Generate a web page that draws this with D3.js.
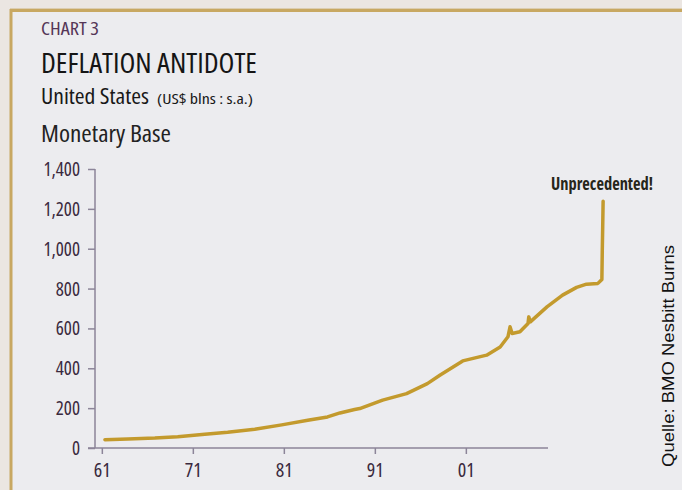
<!DOCTYPE html>
<html><head><meta charset="utf-8">
<script src="https://cdn.jsdelivr.net/npm/d3@7"></script>
<style>
html,body{margin:0;padding:0;background:#ebe6e2;}
svg{display:block;}
.cond{font-family:"Open Sans","Liberation Sans Narrow","DejaVu Sans Condensed",sans-serif;font-stretch:condensed;}
</style></head>
<body><div id="chart"></div>
<script>
// ---- data (decimal year, US monetary base in US$ bn) ----
const years = [1961.0,1963.2,1965.8,1968.0,1970.6,1972.8,1975.4,1978.0,1980.5,1982.4,1983.6,1985.0,1985.5,1987.7,1990.0,1992.0,1993.2,1995.4,1997.7,1999.0,1999.75,1999.95,2000.15,2000.9,2001.68,2001.75,2001.9,2003.5,2005.0,2006.35,2007.3,2008.4,2008.78,2008.82,2008.86,2008.9];
const base  = [42,45,50,57,69,79,94,116,139,156,176,193,198,240,273,323,365,437,466,507,558,608,575,583,625,658,633,708,767,806,822,826,846,993,1110,1238];
const yTicks = [0,200,400,600,800,1000,1200,1400];
const xTickYears = [1960.7,1969.45,1978.2,1986.95,1995.7];
const xTickLabels = ["61","71","81","91","01"];

const W = 682, H = 490;
const svg = d3.select("#chart").append("svg").attr("width", W).attr("height", H);

// panel
svg.append("rect").attr("x",0).attr("y",0).attr("width",W).attr("height",H).attr("fill","#ebe6e2");
svg.append("line").attr("x1",10).attr("x2",W).attr("y1",8.5).attr("y2",8.5).attr("stroke","#dccdb0").attr("stroke-width",1);
svg.append("rect").attr("x",11).attr("y",10.5).attr("width",W+20).attr("height",H+20)
  .attr("fill","#ececef").attr("stroke","#c8a862").attr("stroke-width",3);

// titles
function txt(x,y,s,size,fill,len,weight){
  const t = svg.append("text").attr("class","cond").attr("x",x).attr("y",y).text(s)
    .attr("font-size",size).attr("fill",fill).attr("font-weight",weight||400);
  if(len) t.attr("textLength",len).attr("lengthAdjust","spacingAndGlyphs");
  return t;
}
txt(41,35,"CHART 3",17.5,"#553657",58,500);
txt(41,73,"DEFLATION ANTIDOTE",28,"#151515",216,500);
txt(41,104,"United States",21,"#181818",108,500);
txt(157,104,"(US$ blns : s.a.)",14.5,"#181818",96,500);
txt(41,141.5,"Monetary Base",23,"#222222",130,500);

// scales
const x = d3.scaleLinear().domain([1959.37,2003.6]).range([88,548]);
const y = d3.scaleLinear().domain([0,1400]).range([448,169]);
const axisCol = "#8c8599";

// y axis
const gy = svg.append("g").attr("transform","translate(95,0)")
  .call(d3.axisLeft(y).tickValues(yTicks).tickFormat(d3.format(",")).tickSize(7).tickPadding(8));
gy.select(".domain").attr("stroke",axisCol).attr("stroke-width",1.5).attr("d","M0,169V448");
gy.selectAll(".tick line").attr("stroke",axisCol).attr("stroke-width",1.5);
gy.selectAll(".tick text").attr("class","cond").attr("font-size",19).attr("fill","#3a293d").attr("font-weight",500)
  .attr("dy","0.34em");

// x axis
const gx = svg.append("g").attr("transform","translate(0,448)")
  .call(d3.axisBottom(x).tickValues(xTickYears).tickFormat((d,i)=>xTickLabels[i]).tickSize(6).tickPadding(9));
gx.select(".domain").attr("stroke",axisCol).attr("stroke-width",1.5).attr("d","M88,0H548");
gx.selectAll(".tick line").attr("stroke",axisCol).attr("stroke-width",1.5);
gx.selectAll(".tick text").attr("class","cond").attr("font-size",20).attr("fill","#3a293d").attr("font-weight",500);

// line
const data = years.map((t,i)=>({t, v: base[i]}));
svg.append("path").datum(data)
  .attr("fill","none").attr("stroke","#c39a2d").attr("stroke-width",3.5)
  .attr("stroke-linejoin","round").attr("stroke-linecap","round")
  .attr("d", d3.line().x(d=>x(d.t)).y(d=>y(d.v)));

// annotation
txt(551,190,"Unprecedented!",18,"#26261a",102,700);

// source
svg.append("text").attr("transform","translate(674,467) rotate(-90)")
  .attr("font-family","'Liberation Sans',Arial,sans-serif").attr("font-size",17).attr("fill","#111")
  .attr("textLength",222).attr("lengthAdjust","spacingAndGlyphs")
  .text("Quelle: BMO Nesbitt Burns");
</script></body></html>
